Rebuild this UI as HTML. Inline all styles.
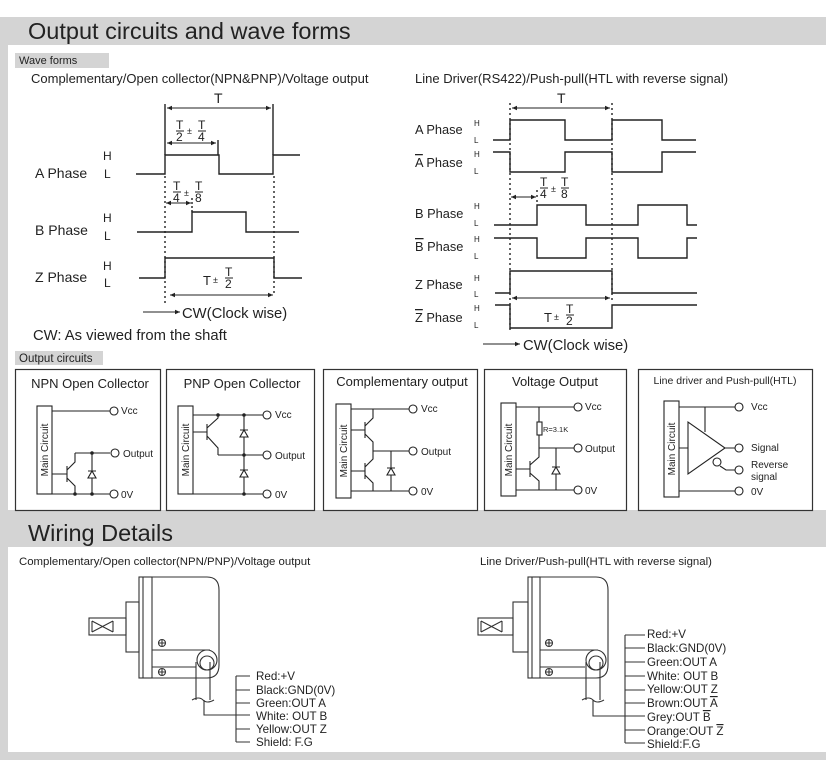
<!DOCTYPE html>
<html><head><meta charset="utf-8"><style>
html,body{margin:0;padding:0;background:#fff;}
svg{display:block;font-family:"Liberation Sans",sans-serif;}
.ov{text-decoration:overline;}
</style></head><body>
<svg width="826" height="760" viewBox="0 0 826 760" xmlns="http://www.w3.org/2000/svg">
<defs>
<marker id="ar" markerWidth="6" markerHeight="6" refX="5" refY="3" orient="auto" markerUnits="userSpaceOnUse"><path d="M0,0.8 L5,3 L0,5.2z" fill="#222"/></marker>
<marker id="al" markerWidth="6" markerHeight="6" refX="1" refY="3" orient="auto" markerUnits="userSpaceOnUse"><path d="M6,0.8 L1,3 L6,5.2z" fill="#222"/></marker>
</defs>
<rect x="0" y="17" width="826" height="743" fill="#d4d4d4"/>
<rect x="8" y="45" width="818" height="465" fill="#fff"/>
<rect x="8" y="547" width="818" height="205" fill="#fff"/>
<text x="28" y="39" font-size="23.5" fill="#222">Output circuits and wave forms</text>
<text x="28" y="541" font-size="23.5" fill="#222">Wiring Details</text>

<g fill="#222">
<rect x="15" y="53" width="94" height="15" fill="#d4d4d4"/>
<text x="19" y="64" font-size="11">Wave forms</text>
<text x="31" y="83" font-size="13">Complementary/Open collector(NPN&amp;PNP)/Voltage output</text>
<text x="415" y="83" font-size="13">Line Driver(RS422)/Push-pull(HTL with reverse signal)</text>
</g>

<g stroke="#222" stroke-width="1.4" fill="none">
<path d="M136 174 H165 V155 H219 V174 H273 V155 H300"/>
<path d="M137 232 H192 V212 H246 V232 H299"/>
<path d="M139 278 H165 V258 H274 V278 H302"/>
<path d="M165 104 V155 M273 104 V155 M218 140 V155"/>
<path d="M165 176 V305 M274 176 V295" stroke-dasharray="2,3"/>
<path d="M192 198 V212" stroke-dasharray="2,2"/>
<path d="M167 108 H271" stroke-width="1" marker-start="url(#al)" marker-end="url(#ar)"/>
<path d="M167 143 H216" stroke-width="1" marker-start="url(#al)" marker-end="url(#ar)"/>
<path d="M166 203 H191" stroke-width="1" marker-start="url(#al)" marker-end="url(#ar)"/>
<path d="M170 295 H273" stroke-width="1" marker-start="url(#al)" marker-end="url(#ar)"/>
<path d="M143 312 H180" stroke-width="1" marker-end="url(#ar)"/>
</g>
<g fill="#222" font-size="13">
<text x="214" y="103" font-size="14">T</text>
<text x="176" y="129" font-size="12">T</text><line x1="176" y1="131" x2="184" y2="131" stroke="#222"/><text x="176" y="141" font-size="12">2</text>
<text x="187" y="134" font-size="9">±</text>
<text x="198" y="129" font-size="12">T</text><line x1="198" y1="131" x2="206" y2="131" stroke="#222"/><text x="198" y="141" font-size="12">4</text>
<text x="173" y="190" font-size="12">T</text><line x1="173" y1="192" x2="181" y2="192" stroke="#222"/><text x="173" y="202" font-size="12">4</text>
<text x="184" y="196" font-size="9">±</text>
<text x="195" y="190" font-size="12">T</text><line x1="195" y1="192" x2="203" y2="192" stroke="#222"/><text x="195" y="202" font-size="12">8</text>
<text x="203" y="285" font-size="13">T</text><text x="213" y="283" font-size="9">±</text>
<text x="225" y="276" font-size="12">T</text><line x1="225" y1="278" x2="233" y2="278" stroke="#222"/><text x="225" y="288" font-size="12">2</text>
<g font-size="14">
<text x="35" y="178">A Phase</text>
<text x="35" y="235">B Phase</text>
<text x="35" y="282">Z Phase</text>
</g>
<g font-size="12">
<text x="103" y="160">H</text><text x="104" y="178">L</text>
<text x="103" y="222">H</text><text x="104" y="240">L</text>
<text x="103" y="270">H</text><text x="104" y="287">L</text>
</g>
<text x="182" y="318" font-size="14.8">CW(Clock wise)</text>
<text x="33" y="340" font-size="14.8">CW: As viewed from the shaft</text>
</g>

<g stroke="#222" stroke-width="1.4" fill="none">
<path d="M493 140 H510 V120 H565 V140 H612 V120 H662 V140 H696"/>
<path d="M493 152 H510 V172 H565 V152 H612 V172 H662 V152 H696"/>
<path d="M494 225 H537 V205 H586 V225 H638 V205 H687 V225 H697"/>
<path d="M494 238 H537 V258 H586 V238 H638 V258 H687 V238 H697"/>
<path d="M495 293 H510 V271 H612 V293 H697"/>
<path d="M495 305 H510 V328 H612 V305 H697"/>
<path d="M510 103 V330 M612 103 V300 M537 190 V205" stroke-dasharray="2,3"/>
<path d="M512 108 H610" stroke-width="1" marker-start="url(#al)" marker-end="url(#ar)"/>
<path d="M511 197 H536" stroke-width="1" marker-start="url(#al)" marker-end="url(#ar)"/>
<path d="M512 298 H610" stroke-width="1" marker-start="url(#al)" marker-end="url(#ar)"/>
<path d="M483 344 H520" stroke-width="1" marker-end="url(#ar)"/>
</g>
<g fill="#222" font-size="12.8">
<text x="557" y="103" font-size="14">T</text>
<text x="540" y="186" font-size="12">T</text><line x1="540" y1="188" x2="548" y2="188" stroke="#222"/><text x="540" y="198" font-size="12">4</text>
<text x="551" y="192" font-size="9">±</text>
<text x="561" y="186" font-size="12">T</text><line x1="561" y1="188" x2="569" y2="188" stroke="#222"/><text x="561" y="198" font-size="12">8</text>
<text x="544" y="322" font-size="13">T</text><text x="554" y="320" font-size="9">±</text>
<text x="566" y="313" font-size="12">T</text><line x1="566" y1="315" x2="574" y2="315" stroke="#222"/><text x="566" y="325" font-size="12">2</text>
<text x="415" y="134">A Phase</text>
<text x="415" y="167"><tspan class="ov">A</tspan> Phase</text>
<text x="415" y="218">B Phase</text>
<text x="415" y="251"><tspan class="ov">B</tspan> Phase</text>
<text x="415" y="289">Z Phase</text>
<text x="415" y="322"><tspan class="ov">Z</tspan> Phase</text>
<g font-size="8">
<text x="474" y="126">H</text><text x="474" y="143">L</text>
<text x="474" y="157">H</text><text x="474" y="174">L</text>
<text x="474" y="209">H</text><text x="474" y="226">L</text>
<text x="474" y="242">H</text><text x="474" y="259">L</text>
<text x="474" y="281">H</text><text x="474" y="297">L</text>
<text x="474" y="311">H</text><text x="474" y="328">L</text>
</g>
<text x="523" y="350" font-size="14.8">CW(Clock wise)</text>
</g>

<rect x="15" y="351" width="88" height="14" fill="#d4d4d4"/>
<text x="19" y="362" font-size="11.5" fill="#222">Output circuits</text>
<g fill="none" stroke="#333" stroke-width="1.2">
<rect x="15.5" y="369.5" width="145" height="141"/>
<rect x="166.5" y="369.5" width="148" height="141"/>
<rect x="323.5" y="369.5" width="154" height="141"/>
<rect x="484.5" y="369.5" width="142" height="141"/>
<rect x="638.5" y="369.5" width="174" height="141"/>
</g>
<g fill="#222" font-size="13">
<text x="90" y="388" text-anchor="middle">NPN Open Collector</text>
<text x="242" y="388" text-anchor="middle">PNP Open Collector</text>
<text x="402" y="386" text-anchor="middle">Complementary output</text>
<text x="555" y="386" text-anchor="middle">Voltage Output</text>
<text x="725" y="384" text-anchor="middle" font-size="10.5">Line driver and Push-pull(HTL)</text>
</g>
<g stroke="#222" stroke-width="1.1" fill="none">
<rect x="37" y="406" width="15" height="88"/>
<path d="M52 411 H110 M75 453 H110 M52 494 H110"/>
<path d="M52 474 H67 M67 466 V482 M67 470 L75 462 V453 M67 478 L75 486 V494"/>
<path d="M92 453 V494"/>
<circle cx="114" cy="411" r="4"/><circle cx="115" cy="453" r="4"/><circle cx="114" cy="494" r="4"/>
<path d="M88 478 H96 L92 471 Z M88 471 H96" fill="#fff"/>
<rect x="178" y="406" width="15" height="88"/>
<path d="M193 415 H263 M218 455 H263 M193 494 H263 M244 415 V494"/>
<path d="M193 432 H207 M207 424 V440 M207 428 L218 418 V415 M207 436 L218 448 V455"/>
<circle cx="267" cy="415" r="4"/><circle cx="267" cy="455" r="4"/><circle cx="267" cy="494" r="4"/>
<path d="M240 437 H248 L244 430 Z M240 430 H248" fill="#fff"/>
<path d="M240 477 H248 L244 470 Z M240 470 H248" fill="#fff"/>
<rect x="336" y="404" width="15" height="94"/>
<path d="M351 409 H409 M373 451 H409 M351 491 H409"/>
<path d="M351 430 H365 M365 422 V438 M365 426 L373 418 V409 M365 434 L373 442 V451"/>
<path d="M351 471 H365 M365 463 V479 M365 467 L373 459 V451 M365 475 L373 483 V491"/>
<path d="M391 451 V491"/>
<path d="M387 475 H395 L391 468 Z M387 468 H395" fill="#fff"/>
<circle cx="413" cy="409" r="4"/><circle cx="413" cy="451" r="4"/><circle cx="413" cy="491" r="4"/>
<rect x="501" y="403" width="15" height="93"/>
<path d="M516 407 H574 M539 448 H574 M516 490 H574"/>
<path d="M539 407 V422 M539 435 V448"/>
<rect x="537" y="422" width="5" height="13"/>
<path d="M516 469 H530 M530 461 V477 M530 465 L539 457 V448 M530 473 L539 481 V490"/>
<path d="M556 448 V490"/>
<path d="M552 474 H560 L556 467 Z M552 467 H560" fill="#fff"/>
<circle cx="578" cy="407" r="4"/><circle cx="578" cy="448" r="4"/><circle cx="578" cy="490" r="4"/>
<rect x="664" y="401" width="15" height="96"/>
<path d="M679 407 H735 M679 491 H735 M705 407 V432 M679 448 H688 M725 448 H735 M720 466 L726 470 H735"/>
<path d="M688 422 L688 474 L725 448 Z"/>
<circle cx="717" cy="462" r="4" fill="#fff"/>
<circle cx="739" cy="407" r="4"/><circle cx="739" cy="448" r="4"/><circle cx="739" cy="470" r="4"/><circle cx="739" cy="491" r="4"/>
</g>
<g fill="#222">
<circle cx="75" cy="494" r="1.8"/><circle cx="92" cy="453" r="1.8"/><circle cx="92" cy="494" r="1.8"/>
<circle cx="218" cy="415" r="1.8"/><circle cx="244" cy="415" r="1.8"/><circle cx="244" cy="455" r="1.8"/><circle cx="244" cy="494" r="1.8"/>
</g>
<g fill="#222" font-size="10">
<text transform="translate(48,450) rotate(-90)" text-anchor="middle" font-size="10">Main Circuit</text>
<text transform="translate(189,450) rotate(-90)" text-anchor="middle" font-size="10">Main Circuit</text>
<text transform="translate(347,451) rotate(-90)" text-anchor="middle" font-size="10">Main Circuit</text>
<text transform="translate(512,450) rotate(-90)" text-anchor="middle" font-size="10">Main Circuit</text>
<text transform="translate(675,449) rotate(-90)" text-anchor="middle" font-size="10">Main Circuit</text>
<text x="121" y="414">Vcc</text><text x="123" y="457">Output</text><text x="121" y="498">0V</text>
<text x="275" y="418">Vcc</text><text x="275" y="459">Output</text><text x="275" y="498">0V</text>
<text x="421" y="412">Vcc</text><text x="421" y="455">Output</text><text x="421" y="495">0V</text>
<text x="585" y="410">Vcc</text><text x="585" y="452">Output</text><text x="585" y="494">0V</text>
<text x="543" y="432" font-size="7.5">R=3.1K</text>
<text x="751" y="410">Vcc</text><text x="751" y="451">Signal</text><text x="751" y="468">Reverse</text><text x="751" y="480">signal</text><text x="751" y="495">0V</text>
</g>

<g fill="#222" font-size="11.4">
<text x="19" y="565">Complementary/Open collector(NPN/PNP)/Voltage output</text>
<text x="480" y="565">Line Driver/Push-pull(HTL with reverse signal)</text>
</g>
<g stroke="#333" stroke-width="1.1" fill="none">
<rect x="89" y="618" width="37" height="17"/>
<path d="M92 621 L113 632 M92 632 L113 621 M92 621 V632 M113 621 V632"/>
<rect x="126" y="602" width="13" height="50"/>
<rect x="139" y="577" width="13" height="101"/>
<path d="M143 577 V678"/>
<path d="M152 577 H207 Q219 577 219 590 V665 Q219 678 207 678 H152"/>
<path d="M152 650 H210 M152 667 H196"/>
<circle cx="207" cy="660" r="10"/><circle cx="207" cy="663" r="7"/>
<path d="M196 662 V700 M210 662 V700 M192 700 Q199 696 203 700 T214 700"/>
<path d="M204 700 V715 H250"/>
<path d="M236 676 V742 M236 676 H250 M236 690 H250 M236 703 H250 M236 729 H250 M236 742 H250"/>
<circle cx="162" cy="643" r="3.5"/><path d="M158.5 643 H165.5 M162 639.5 V646.5"/>
<circle cx="162" cy="672" r="3.5"/><path d="M158.5 672 H165.5 M162 668.5 V675.5"/>
<rect x="478" y="618" width="35" height="17"/>
<path d="M481 621 L502 632 M481 632 L502 621 M481 621 V632 M502 621 V632"/>
<rect x="513" y="602" width="15" height="50"/>
<rect x="528" y="577" width="12" height="101"/>
<path d="M532 577 V678"/>
<path d="M540 577 H596 Q608 577 608 590 V665 Q608 678 596 678 H540"/>
<path d="M540 650 H598 M540 667 H585"/>
<circle cx="596" cy="660" r="10"/><circle cx="596" cy="663" r="7"/>
<path d="M586 662 V700 M600 662 V700 M582 700 Q589 696 593 700 T604 700"/>
<path d="M593 700 V716 H645"/>
<path d="M625 635 V743 M625 635 H645 M625 648 H645 M625 662 H645 M625 676 H645 M625 690 H645 M625 703 H645 M625 730 H645 M625 743 H645"/>
<circle cx="549" cy="643" r="3.5"/><path d="M545.5 643 H552.5 M549 639.5 V646.5"/>
<circle cx="549" cy="672" r="3.5"/><path d="M545.5 672 H552.5 M549 668.5 V675.5"/>
</g>
<g fill="#222" font-size="11.6">
<text x="256" y="680">Red:+V</text>
<text x="256" y="694">Black:GND(0V)</text>
<text x="256" y="707">Green:OUT A</text>
<text x="256" y="720">White: OUT B</text>
<text x="256" y="733">Yellow:OUT Z</text>
<text x="256" y="746">Shield: F.G</text>
<text x="647" y="638">Red:+V</text>
<text x="647" y="652">Black:GND(0V)</text>
<text x="647" y="666">Green:OUT A</text>
<text x="647" y="680">White: OUT B</text>
<text x="647" y="693">Yellow:OUT Z</text>
<text x="647" y="707">Brown:OUT <tspan class="ov">A</tspan></text>
<text x="647" y="721">Grey:OUT <tspan class="ov">B</tspan></text>
<text x="647" y="735">Orange:OUT <tspan class="ov">Z</tspan></text>
<text x="647" y="748">Shield:F.G</text>
</g>
</svg>
</body></html>
